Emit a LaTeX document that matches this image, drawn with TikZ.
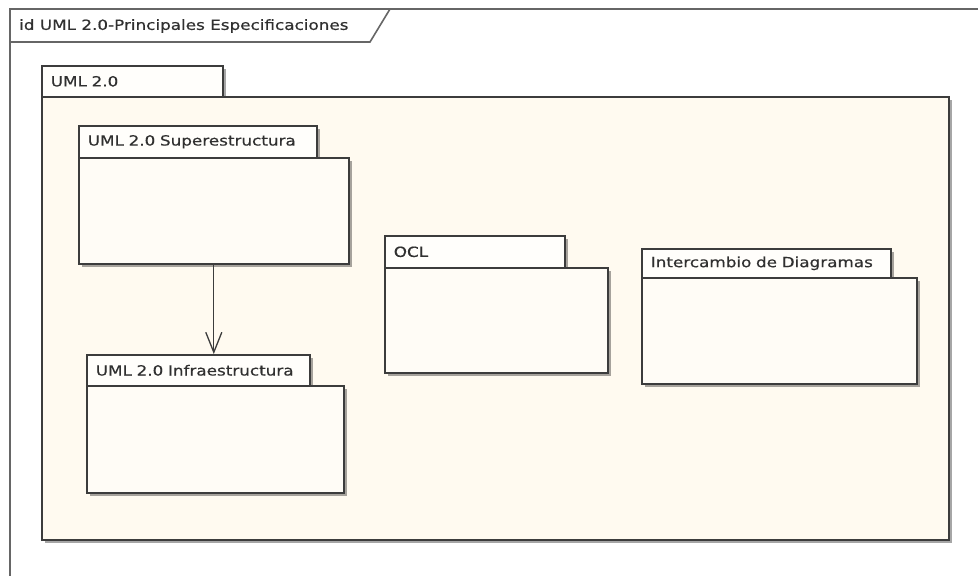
\documentclass[tikz,border=0pt]{standalone}
\usepackage{fontspec}
\setmainfont{DejaVu Sans}[FakeStretch=1.2,FakeBold=0.5]
\usetikzlibrary{arrows.meta,shadows}
\definecolor{bodyfill}{HTML}{FFFAF0}
\definecolor{innerfill}{HTML}{FFFCF6}
\definecolor{tabfill}{HTML}{FFFEFB}
\definecolor{linec}{HTML}{3C3C3C}
\definecolor{framec}{HTML}{666666}
\definecolor{textc}{HTML}{303030}
\begin{document}
\begin{tikzpicture}[x=1pt,y=-1pt,
  pkgshadow/.style={drop shadow={shadow xshift=3pt,shadow yshift=-3pt,fill=black,opacity=0.35}},
  pkgtab/.style={draw=linec, line width=1.6pt, fill=tabfill, anchor=north west,
    inner sep=0pt, inner xsep=9pt, align=left, text=textc,
    font=\fontsize{14}{16}\selectfont, pkgshadow},
  pkgbody/.style={draw=linec, line width=1.6pt, fill=innerfill, anchor=north west,
    inner sep=0pt, pkgshadow},
  deparrow/.style={draw=linec, line width=1.3pt, -{Straight Barb[length=20pt,width=16pt]}}
]
\useasboundingbox[fill=white] (0,0) rectangle (978,576);

% outer diagram frame
\coordinate (fbl) at (10,576);
\coordinate (ftl) at (10,9);
\coordinate (ftr) at (978,9);
\coordinate (tabl) at (10,42);
\coordinate (tabm) at (370,42);
\coordinate (tabr) at (390,9);
\draw[framec, line width=2pt] (fbl) -- (ftl) -- (ftr);
\draw[framec, line width=1.6pt] (tabl) -- (tabm) -- (tabr);
\node[anchor=west, text=textc, font=\fontsize{14}{16}\selectfont, inner sep=0pt] (title) at (19,26) {id UML 2.0-Principales Especificaciones};

% UML 2.0 container package
\node[pkgtab, text width=163pt, minimum height=31pt] (umltab) at (41,65) {UML 2.0};
\node[pkgbody, fill=bodyfill, minimum width=907pt, minimum height=443pt] (umlbody) at (41,96) {};

% Superestructura
\node[pkgtab, text width=220pt, minimum height=32pt] (suptab) at (78,125) {UML 2.0 Superestructura};
\node[pkgbody, minimum width=270pt, minimum height=106pt] (supbody) at (78,157) {};

% Infraestructura
\node[pkgtab, text width=205pt, minimum height=31pt] (inftab) at (86,354) {UML 2.0 Infraestructura};
\node[pkgbody, minimum width=257pt, minimum height=107pt] (infbody) at (86,385) {};

% OCL
\node[pkgtab, text width=162pt, minimum height=32pt] (ocltab) at (384,235) {OCL};
\node[pkgbody, minimum width=223pt, minimum height=105pt] (oclbody) at (384,267) {};

% Intercambio de Diagramas
\node[pkgtab, text width=231pt, minimum height=29pt] (dgtab) at (641,248) {Intercambio de Diagramas};
\node[pkgbody, minimum width=275pt, minimum height=106pt] (dgbody) at (641,277) {};

% dependency
\draw[deparrow] (supbody.south) -- (supbody.south |- inftab.north);
\end{tikzpicture}
\end{document}
